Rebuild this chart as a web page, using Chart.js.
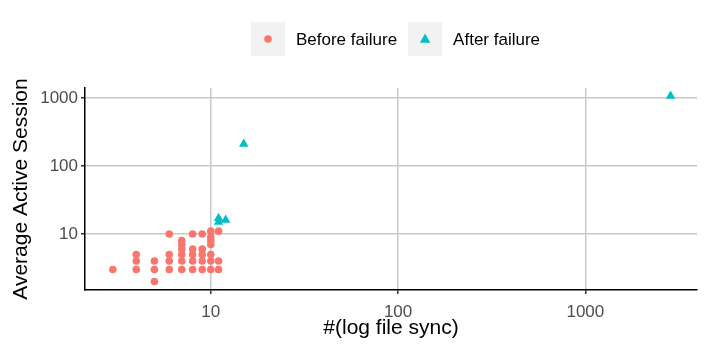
<!DOCTYPE html>
<html>
<head>
<meta charset="utf-8">
<script src="https://cdn.jsdelivr.net/npm/chart.js@4"></script>
<style>
  html, body { margin: 0; padding: 0; background: #fff; }
  #wrap { width: 706px; height: 353px; }
</style>
</head>
<body>
<div id="wrap"><canvas id="chart" width="706" height="353"></canvas></div>
<script>
// #(log file sync) vs Average Active Session
const beforeX = [3, 4, 4, 4, 5, 5, 5, 6, 6, 6, 6, 7, 7, 7, 7, 7, 7, 8, 8, 8, 8, 8, 9, 9, 9, 9, 9, 10, 10, 10, 10, 10, 10, 10, 11, 11, 11];
const beforeY = [3, 5, 4, 3, 4, 3, 2, 10, 5, 4, 3, 8, 7, 6, 5, 4, 3, 10, 6, 5, 4, 3, 10, 6, 5, 4, 3, 11, 9, 8, 7, 5, 4, 3, 11, 4, 3];
const afterX = [11, 11, 12, 15, 2850];
const afterY = [17, 15, 16, 210, 1070];
const tickValues = [10, 100, 1000];

const seriesLabels = ['Before failure', 'After failure'];
const seriesColors = ['#F8766D', '#00BFC4'];

const FONT = '"Liberation Sans", Arial, sans-serif';
const toPoints = (xs, ys) => xs.map((x, i) => ({ x: x, y: ys[i] }));

// legend drawn like ggplot's: grey key boxes on top
const ggLegend = {
  id: 'ggLegend',
  afterDraw(chart) {
    const ctx = chart.ctx;
    const area = chart.chartArea;
    ctx.save();
    ctx.font = '17px ' + FONT;
    const key = 34, gapText = 11, gapItem = 11;
    const items = chart.data.datasets.map(ds => ({ ds, w: ctx.measureText(ds.label).width }));
    let total = items.reduce((s, it) => s + key + gapText + it.w, 0) + gapItem * (items.length - 1);
    let x = (area.left + area.right) / 2 + 4.5 - total / 2;
    const top = 22;
    items.forEach(it => {
      ctx.fillStyle = '#f2f2f2';
      ctx.fillRect(x, top, key, key);
      const cx = x + key / 2, cy = top + key / 2;
      ctx.fillStyle = it.ds.backgroundColor;
      ctx.beginPath();
      if (it.ds.pointStyle === 'triangle') {
        const r = 5.5;
        ctx.moveTo(cx, cy - r);
        ctx.lineTo(cx + r * 0.95, cy + r * 0.7);
        ctx.lineTo(cx - r * 0.95, cy + r * 0.7);
        ctx.closePath();
      } else {
        ctx.arc(cx, cy, 3.8, 0, Math.PI * 2);
      }
      ctx.fill();
      ctx.fillStyle = '#000';
      ctx.textBaseline = 'middle';
      ctx.fillText(it.ds.label, x + key + gapText, cy + 1);
      x += key + gapText + it.w + gapItem;
    });
    ctx.restore();
  }
};

const axisCommon = {
  type: 'logarithmic',
  afterBuildTicks: scale => { scale.ticks = tickValues.map(v => ({ value: v })); },
  grid: { color: '#c8c8c8', lineWidth: 1.5, tickColor: '#333', tickLength: 4, drawTicks: true },
  border: { display: true, color: '#000', width: 1.5 },
  ticks: {
    color: '#4d4d4d',
    font: { family: FONT, size: 17 },
    callback: v => String(v),
    autoSkip: false,
    maxRotation: 0
  },
  title: {
    display: true,
    color: '#000',
    font: { family: FONT, size: 21 }
  }
};

new Chart(document.getElementById('chart'), {
  type: 'scatter',
  data: {
    datasets: [
      {
        label: seriesLabels[0],
        data: toPoints(beforeX, beforeY),
        backgroundColor: seriesColors[0],
        borderWidth: 0,
        pointStyle: 'circle',
        pointRadius: 3.8
      },
      {
        label: seriesLabels[1],
        data: toPoints(afterX, afterY),
        backgroundColor: seriesColors[1],
        borderWidth: 0,
        pointStyle: 'triangle',
        pointRadius: 5.5
      }
    ]
  },
  options: {
    responsive: false,
    animation: false,
    layout: { padding: { top: 88, right: 9, left: 0, bottom: 0 } },
    plugins: { legend: { display: false }, tooltip: { enabled: false } },
    scales: {
      x: Object.assign({}, axisCommon, {
        min: 2.13, max: 3945,
        afterFit: s => { s.height = 63; },
        ticks: Object.assign({}, axisCommon.ticks, { padding: 8 }),
        title: Object.assign({}, axisCommon.title, { text: '#(log file sync)', padding: { top: 0, bottom: 12 } })
      }),
      y: Object.assign({}, axisCommon, {
        min: 1.5, max: 1403,
        afterFit: s => { s.width = 85; },
        ticks: Object.assign({}, axisCommon.ticks, { padding: 3 }),
        title: Object.assign({}, axisCommon.title, { text: 'Average Active Session', padding: { top: 9, bottom: 0 } })
      })
    }
  },
  plugins: [ggLegend]
});
</script>
</body>
</html>
